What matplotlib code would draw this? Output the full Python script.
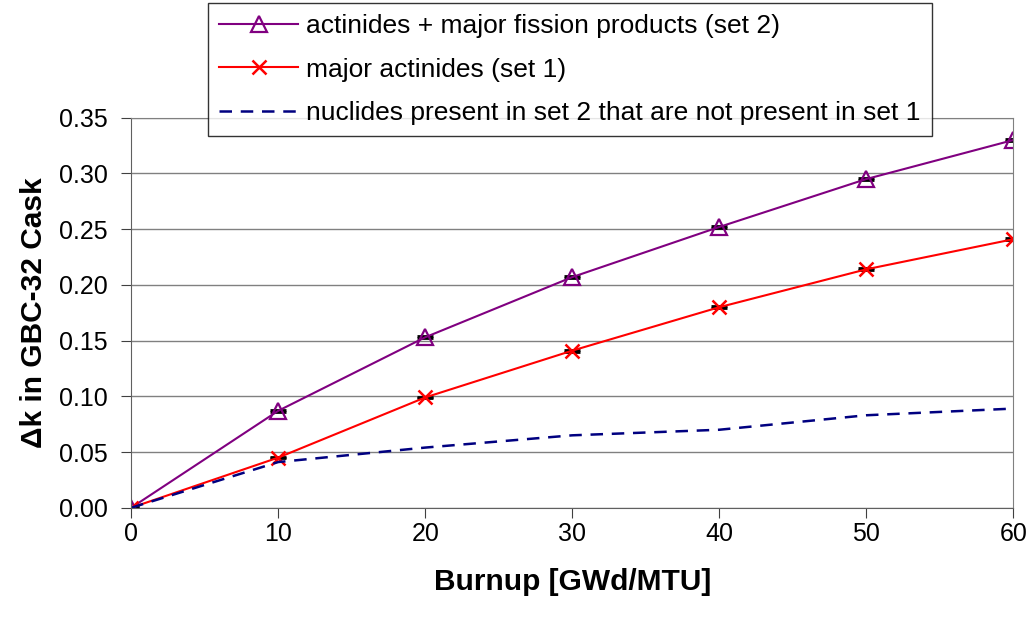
import matplotlib

matplotlib.use("Agg")
import matplotlib.pyplot as plt

burnup = [0, 10, 20, 30, 40, 50, 60]
set2 = [0.0, 0.087, 0.153, 0.207, 0.252, 0.295, 0.330]
set1 = [0.0, 0.045, 0.099, 0.141, 0.180, 0.214, 0.241]
diff = [0.0, 0.041, 0.054, 0.065, 0.070, 0.083, 0.089]

label2 = "actinides + major fission products (set 2)"
label1 = "major actinides (set 1)"
label_diff = "nuclides present in set 2 that are not present in set 1"

plt.rcParams["font.family"] = ["Liberation Sans", "DejaVu Sans"]


def build_plot():
    fig = plt.figure(figsize=(10.33, 6.23), dpi=100)
    ax = fig.add_axes([0.127, 0.185, 0.854, 0.626])

    ax.errorbar(burnup, set2, yerr=0.0008, fmt="none", ecolor="black",
                capsize=6, capthick=2, elinewidth=0)
    ax.errorbar(burnup, set1, yerr=0.0008, fmt="none", ecolor="black",
                capsize=6, capthick=2, elinewidth=0)
    ax.plot(burnup, set2, color="#800080", lw=1.5, marker="^", ms=11,
            mfc="none", mec="#800080", mew=1.6, label=label2)
    ax.plot(burnup, set1, color="red", lw=1.5, marker="x", ms=10,
            mew=1.8, label=label1)
    ax.plot(burnup, diff, color="#000080", lw=1.8, ls=(0, (5, 3.5)),
            label=label_diff)

    ax.set_xlim(0, 60)
    ax.set_ylim(0, 0.35)
    ax.set_xticks(range(0, 61, 10))
    ax.set_yticks([i * 0.05 for i in range(8)])
    ax.set_yticklabels([f"{i * 0.05:.2f}" for i in range(8)])
    ax.grid(axis="y", color="#808080", lw=1)
    ax.set_axisbelow(True)
    for side in ["top", "right"]:
        ax.spines[side].set_color("#808080")
    for side in ["left", "bottom"]:
        ax.spines[side].set_color("#606060")
    ax.tick_params(direction="out", length=7, labelsize=18,
                   color="#404040")
    ax.tick_params(axis="y", pad=10)
    ax.tick_params(axis="x", pad=3)

    ax.set_xlabel("Burnup [GWd/MTU]", fontsize=21.5, fontweight="bold",
                  labelpad=16)
    ax.set_ylabel("Δk in GBC-32 Cask", fontsize=21.5, fontweight="bold",
                  labelpad=8)

    leg = ax.legend(loc="upper left", bbox_to_anchor=(0.087, 1.295),
                    fontsize=19, frameon=True, fancybox=False,
                    edgecolor="black", handlelength=3.0, handletextpad=0.3,
                    borderpad=0.42, labelspacing=0.75, borderaxespad=0)
    leg.get_frame().set_linewidth(1)
    return fig


def main() -> None:
    fig = build_plot()
    fig.savefig("out.png", dpi=100)


if __name__ == "__main__":
    main()
